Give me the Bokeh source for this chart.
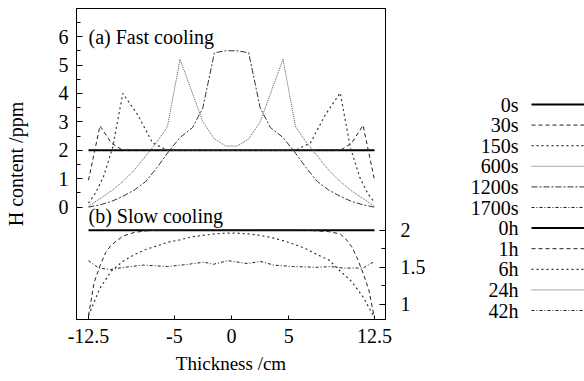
from bokeh.plotting import figure
from bokeh.models import Range1d, LinearAxis, FixedTicker, Label
from bokeh.layouts import row
from bokeh.core.properties import value
from bokeh.embed import file_html
from bokeh.resources import INLINE

# ---------------- data ----------------
x_ticks = [-12.5, -5, 0, 5, 12.5]
x_tick_labels = ["-12.5", "-5", "0", "5", "12.5"]
top_ticks = [0, 1, 2, 3, 4, 5, 6]
top_minor = [0.5, 1.5, 2.5, 3.5, 4.5, 5.5, 6.5]
low_ticks = [1, 1.5, 2]
low_tick_labels = ["1", "1.5", "2"]
low_minor = [1.25, 1.75]

# (a) fast cooling, H content (ppm) vs thickness (cm)
x_0s = [-12.5, 12.5]
y_0s = [2.0, 2.0]
x_30s = [-12.5, -11.5, -10.5, -9.5, 9.5, 10.5, 11.5, 12.5]
y_30s = [0.95, 2.86, 2.25, 2.0, 2.0, 2.25, 2.88, 0.95]
x_150s = [-12.5, -11.9, -11.2, -10.4, -9.5, -8.2, -6.9, -5.6,
          5.6, 6.9, 8.2, 9.5, 10.4, 11.2, 11.9, 12.5]
y_150s = [0.14, 0.49, 1.06, 2.08, 4.0, 3.25, 2.26, 2.0,
          2.0, 2.26, 3.25, 4.02, 2.08, 1.06, 0.49, 0.16]
x_600s = [-12.5, -11.5, -10.5, -9.5, -8.5, -7.5, -6.5, -5.6, -4.5, -2.5, -1.5, -0.5,
          0.5, 1.5, 2.5, 4.5, 5.6, 6.5, 7.5, 8.5, 9.5, 10.5, 11.5, 12.5]
y_600s = [0.03, 0.3, 0.57, 0.9, 1.3, 1.8, 2.3, 2.83, 5.2, 3.0, 2.4, 2.15,
          2.15, 2.4, 3.0, 5.2, 2.83, 2.3, 1.8, 1.3, 0.9, 0.57, 0.3, 0.03]
x_1200s = [-12.5, -11.5, -10.5, -9.5, -8.5, -7.5, -6.5, -5.5, -4.5, -3.4, -2.5, -1.5, -0.5,
           0.5, 1.5, 2.5, 3.4, 4.5, 5.5, 6.5, 7.5, 8.5, 9.5, 10.5, 11.5, 12.5]
y_1200s = [0.0, 0.08, 0.2, 0.38, 0.6, 0.9, 1.4, 1.95, 2.45, 2.8, 3.5, 5.43, 5.5,
           5.5, 5.43, 3.5, 2.8, 2.45, 1.95, 1.4, 0.9, 0.6, 0.38, 0.2, 0.08, 0.0]

# (b) slow cooling
x_0h = [-12.5, 12.5]
y_0h = [2.0, 2.0]
x_1h = [-12.5, -12.0, -11.5, -11.0, -10.5, -10.0, -9.5, -8.5, -7.5, -6.5,
        6.5, 7.5, 8.5, 9.5, 10.0, 10.5, 11.0, 11.5, 12.0, 12.5]
y_1h = [0.85, 1.3, 1.52, 1.7, 1.8, 1.86, 1.92, 1.97, 1.99, 2.0,
        2.0, 1.99, 1.98, 1.95, 1.88, 1.78, 1.62, 1.42, 1.2, 0.81]
x_6h = [-12.5, -11.5, -10.5, -9.5, -8.5, -7.5, -6.5, -5.5, -4.5, -3.5, -2.5, -1.5, -0.5,
        0.5, 1.5, 2.5, 3.5, 4.5, 5.5, 6.5, 7.5, 8.5, 9.5, 10.5, 11.5, 12.5]
y_6h = [0.85, 1.22, 1.45, 1.58, 1.67, 1.74, 1.79, 1.84, 1.87, 1.91, 1.93, 1.95, 1.96,
        1.96, 1.95, 1.93, 1.9, 1.86, 1.81, 1.75, 1.67, 1.6, 1.45, 1.31, 1.1, 0.82]
x_42h = [-12.5, -11.6, -10.6, -9.4, -7.7, -5.6, -3.8, -2.4, -1.6, -0.3,
         1.4, 2.5, 3.7, 5.4, 7.5, 8.6, 9.8, 11.5, 12.5]
y_42h = [1.59, 1.49, 1.47, 1.50, 1.53, 1.51, 1.54, 1.57, 1.54, 1.59,
         1.55, 1.58, 1.53, 1.51, 1.50, 1.51, 1.49, 1.49, 1.58]

legend_labels = ["0s", "30s", "150s", "600s", "1200s", "1700s",
                 "0h", "1h", "6h", "24h", "42h"]

# ---------------- styles ----------------
FONT = "Liberation Serif"
STY = {
    "solid": dict(line_color="black", line_width=2),
    "dash": dict(line_color="#222222", line_width=1, line_dash="4 3"),
    "dot": dict(line_color="#333333", line_width=1.2, line_dash="2 3"),
    "fine": dict(line_color="#555555", line_width=1, line_dash="1 1"),
    "dashdot": dict(line_color="#333333", line_width=1, line_dash="6 2 2 2"),
    "dashdotdot": dict(line_color="#222222", line_width=1, line_dash="3 2 1 2"),
}
legend_styles = ["solid", "dash", "dot", "fine", "dashdot", "dashdotdot",
                 "solid", "dash", "dot", "fine", "dashdotdot"]

H = 381
B_TOP, B_BOT = 8, 62
W_MAIN = 430

# ---------------- main figure ----------------
p = figure(width=W_MAIN, height=H, output_backend="svg", toolbar_location=None,
           x_range=Range1d(-13.55, 13.46), y_range=Range1d(-3.953, 6.988),
           min_border_left=76, min_border_right=45, min_border_top=B_TOP,
           min_border_bottom=B_BOT)
p.extra_y_ranges = {"low": Range1d(0.797, 4.986)}
p.grid.visible = False
p.outline_line_color = "black"
p.outline_line_width = 1
p.outline_line_alpha = 1
p.background_fill_color = "white"
p.border_fill_color = "white"

def style_axis(ax, tick_in, minor_in, standoff):
    ax.axis_line_color = "black"
    ax.major_tick_line_color = "black"
    ax.minor_tick_line_color = "black"
    ax.major_tick_in = tick_in
    ax.major_tick_out = 0
    ax.minor_tick_in = minor_in
    ax.minor_tick_out = 0
    ax.major_label_standoff = standoff
    ax.major_label_text_font = FONT
    ax.major_label_text_font_size = "20px"
    ax.major_label_text_color = "black"
    ax.axis_label_text_font = FONT
    ax.axis_label_text_font_size = "20px"
    ax.axis_label_text_font_style = "normal"
    ax.axis_label_text_color = "black"

xa = p.xaxis[0]
xa.ticker = FixedTicker(ticks=x_ticks)
xa.major_label_overrides = {t: s for t, s in zip(x_ticks, x_tick_labels)}
xa.axis_label = "Thickness /cm"
style_axis(xa, 4, 0, 9)
xa.axis_label_text_font_size = "19px"
xa.axis_label_standoff = 7

ya = p.yaxis[0]
ya.ticker = FixedTicker(ticks=top_ticks, minor_ticks=top_minor)
ya.major_label_overrides = {t: str(t) for t in top_ticks}
ya.axis_label = "H content /ppm"
style_axis(ya, 6, 4, 8)
ya.axis_label_standoff = 29

ra = LinearAxis(y_range_name="low",
                ticker=FixedTicker(ticks=low_ticks, minor_ticks=low_minor))
ra.major_label_overrides = {t: s for t, s in zip(low_ticks, low_tick_labels)}
style_axis(ra, 6, 4, 15)
p.add_layout(ra, "right")

# top panel
p.line(x_0s, y_0s, **STY["solid"])
p.line(x_30s, y_30s, **STY["dash"])
p.line(x_150s, y_150s, **STY["dot"])
p.line(x_600s, y_600s, **STY["fine"])
p.line(x_1200s, y_1200s, **STY["dashdot"])
# bottom panel
p.line(x_0h, y_0h, y_range_name="low", **STY["solid"])
p.line(x_1h, y_1h, y_range_name="low", **STY["dash"])
p.line(x_6h, y_6h, y_range_name="low", **STY["dot"])
p.line(x_42h, y_42h, y_range_name="low", **STY["dashdotdot"])

p.add_layout(Label(x=-12.5, y=6.0, text="(a) Fast cooling", text_font=FONT,
                   text_font_size="20px", text_baseline="middle", text_color="black"))
p.add_layout(Label(x=-12.5, y=2.19, y_range_name="low", text="(b) Slow cooling",
                   text_font=FONT, text_font_size="20px", text_baseline="middle",
                   text_color="black"))

# ---------------- legend figure (frame aligned with the main frame) ----------------
LW = 584 - W_MAIN
leg = figure(width=LW, height=H, output_backend="svg", toolbar_location=None,
             x_range=Range1d(0, LW), y_range=Range1d(H - B_BOT, B_TOP),
             x_axis_location=None, y_axis_location=None,
             min_border_left=0, min_border_right=0,
             min_border_top=B_TOP, min_border_bottom=B_BOT)
leg.grid.visible = False
leg.outline_line_color = None
leg.background_fill_color = "white"
leg.border_fill_color = "white"

row0, step = 104, 20.6
text_right, line_left = 88, 101
for i, (lab, st) in enumerate(zip(legend_labels, legend_styles)):
    yy = row0 + step * i
    leg.text(x=[text_right], y=[yy], text=[lab], text_align="right", text_baseline="middle",
             text_font=value(FONT), text_font_size="20px", text_color="black")
    leg.line(x=[line_left, LW + 5], y=[yy, yy], **STY[st])

layout = row(p, leg)
open("out.html", "w").write(file_html(layout, INLINE))
